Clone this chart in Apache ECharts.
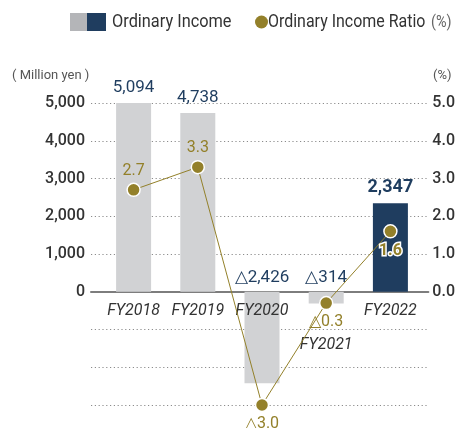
<!DOCTYPE html>
<html>
<head>
<meta charset="utf-8">
<script src="https://cdn.jsdelivr.net/npm/echarts@6/dist/echarts.min.js"></script>
<style>
html,body{margin:0;padding:0;background:#fff;}
#main{width:458px;height:428px;}
</style>
</head>
<body>
<div id="main"></div>
<script>
// data
var years = ['FY2018', 'FY2019', 'FY2020', 'FY2021', 'FY2022'];
var income = [5094, 4738, -2426, -314, 2347];   // million yen
var ratio = [2.7, 3.3, -3.0, -0.3, 1.6];         // %
var ratioLabelPos = ['top', 'top', 'bottom', 'bottom', 'bottom'];
var incomeMin = -3000, incomeMax = 5000, incomeStep = 1000;
var ratioMin = -3, ratioMax = 5, ratioStep = 1;

var navy = '#1f3d5f';
var gray = '#d1d2d4';
var gold = '#93802a';
var font = 'Roboto';

function fmtIncome(v) {
  var s = Math.abs(v).toLocaleString('en-US');
  return v < 0 ? '△' + s : s;
}
function fmtRatio(v) {
  var s = Math.abs(v).toFixed(1);
  return v < 0 ? '△' + s : s;
}

var barData = [];
for (var i = 0; i < income.length; i++) {
  var last = i == income.length - 1;
  barData.push({
    value: income[i],
    itemStyle: { color: last ? navy : gray },
    label: {
      position: 'top',
      distance: income[i] < 0 ? 6 : 7,
      fontWeight: last ? 'bold' : 'normal',
      fontSize: last ? 18 : 17
    }
  });
}

var lineData = [];
for (var j = 0; j < ratio.length; j++) {
  var lst = j == ratio.length - 1;
  lineData.push({
    value: ratio[j],
    label: {
      position: ratioLabelPos[j],
      fontWeight: lst ? 'bold' : 'normal',
      textBorderColor: lst ? '#fff' : 'transparent',
      textBorderWidth: lst ? 3 : 0
    }
  });
}

var catData = years.map(function (y) {
  // FY2021 label sits lower in the original
  if (y == 'FY2021') return { value: y, textStyle: { padding: [34, 0, 0, 0] } };
  return y;
});

var myChart = echarts.init(document.getElementById('main'));
var option = {
  animation: false,
  textStyle: { fontFamily: font },
  grid: [
    { left: 101.5, right: 35.5, top: 103, bottom: 23 },   // bars + line
    { left: 91, right: 28, top: 103, bottom: 23 },        // gridlines, y labels, zero line
    { left: 101.5, right: 35.5, top: 103, bottom: 136 }   // category labels under zero
  ],
  xAxis: [
    {
      type: 'category', gridIndex: 0, data: years,
      axisLine: { show: false }, axisTick: { show: false }, axisLabel: { show: false }
    },
    {
      type: 'value', gridIndex: 1, min: 0, max: 1,
      axisLine: { show: true, onZero: true, lineStyle: { color: '#7d7d7d', width: 2 } },
      axisTick: { show: false },
      axisLabel: { show: false },
      splitLine: { show: false }
    },
    {
      type: 'category', gridIndex: 2, data: catData,
      z: 3,
      axisLine: { show: false },
      axisTick: { show: false },
      axisLabel: { interval: 0, color: '#333', fontSize: 16, fontStyle: 'italic', margin: 11 }
    }
  ],
  yAxis: [
    { type: 'value', gridIndex: 0, min: incomeMin, max: incomeMax, interval: incomeStep, show: false },
    { type: 'value', gridIndex: 0, min: ratioMin, max: ratioMax, interval: ratioStep, show: false },
    {
      type: 'value', gridIndex: 1, position: 'left',
      min: incomeMin, max: incomeMax, interval: incomeStep,
      axisLine: { show: false },
      axisTick: { show: false },
      axisLabel: {
        color: '#333', fontSize: 16, fontWeight: 500, margin: 6,
        formatter: function (v) { return v < 0 ? '' : v.toLocaleString('en-US'); }
      },
      splitLine: { show: true, lineStyle: { color: '#8c8c8c', width: 1, type: [1.2, 2.6] } }
    },
    {
      type: 'value', gridIndex: 1, position: 'right',
      min: ratioMin, max: ratioMax, interval: ratioStep,
      axisLine: { show: false },
      axisTick: { show: false },
      axisLabel: {
        color: '#333', fontSize: 16, fontWeight: 500, margin: 4,
        formatter: function (v) { return v < 0 ? '' : v.toFixed(1); }
      },
      splitLine: { show: false }
    },
    { type: 'value', gridIndex: 2, min: 0, max: 1, show: false }
  ],
  graphic: [
    { type: 'rect', left: 70, top: 13, shape: { width: 17, height: 18 }, style: { fill: '#b4b5b8' } },
    { type: 'rect', left: 87, top: 13, shape: { width: 19, height: 18 }, style: { fill: navy } },
    { type: 'text', x: 112, y: 22, scaleX: 0.86,
      style: { text: 'Ordinary Income', fill: '#333', font: '19px Roboto', verticalAlign: 'middle' } },
    { type: 'circle', shape: { cx: 261.5, cy: 22, r: 6.5 }, style: { fill: gold } },
    { type: 'text', x: 268, y: 22, scaleX: 0.84,
      style: { text: 'Ordinary Income Ratio', fill: '#333', font: '19px Roboto', verticalAlign: 'middle' } },
    { type: 'text', x: 431, y: 23, scaleX: 0.9,
      style: { text: '(%)', fill: '#666', font: '16px Roboto', verticalAlign: 'middle' } },
    { type: 'text', x: 12, y: 76,
      style: { text: '( Million yen )', fill: '#555', font: '13px Roboto', verticalAlign: 'middle' } },
    { type: 'text', x: 433, y: 76,
      style: { text: '(%)', fill: '#555', font: '13px Roboto', verticalAlign: 'middle' } }
  ],
  series: [
    {
      name: 'Ordinary Income',
      type: 'bar',
      xAxisIndex: 0, yAxisIndex: 0,
      barWidth: 35,
      data: barData,
      label: {
        show: true,
        color: navy,
        distance: 7,
        formatter: function (p) { return fmtIncome(p.value); }
      },
      z: 2
    },
    {
      name: 'Ordinary Income Ratio',
      type: 'line',
      xAxisIndex: 0, yAxisIndex: 1,
      symbol: 'circle',
      symbolSize: 13,
      itemStyle: { color: gold, borderColor: '#fff', borderWidth: 1.5 },
      lineStyle: { color: gold, width: 1 },
      data: lineData,
      label: {
        show: true,
        color: gold,
        fontSize: 16,
        distance: 4,
        formatter: function (p) { return fmtRatio(p.value); }
      },
      z: 5
    }
  ]
};
myChart.setOption(option);
window.addEventListener('resize', function () {
  myChart.resize();
});
</script>
</body>
</html>
